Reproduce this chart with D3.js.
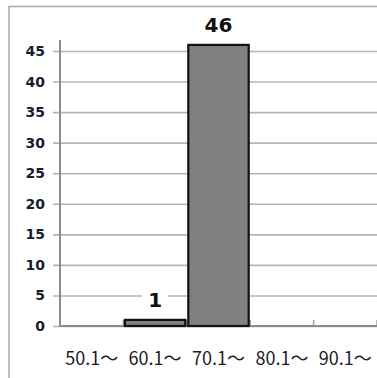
<!DOCTYPE html>
<html>
<head>
<meta charset="utf-8">
<script src="https://cdn.jsdelivr.net/npm/d3@7"></script>
<style>
  html, body { margin: 0; padding: 0; background: #fff; }
  svg { display: block; }
</style>
</head>
<body>
<svg id="chart" width="377" height="378"></svg>
<script>
// Score bands and head counts per band
const categories = ["50.1〜", "60.1〜", "70.1〜", "80.1〜", "90.1〜"];
const counts = [0, 1, 46, 0, 0];
const yTicks = [0, 5, 10, 15, 20, 25, 30, 35, 40, 45];

const svg = d3.select("#chart");
const W = 377, H = 378;
const plotLeft = 60, plotRight = 377, plotTop = 40, plotBottom = 326;

// Frame around the chart area
svg.append("path")
  .attr("d", `M9,${H} L9,6.5 L${W},6.5`)
  .attr("fill", "none")
  .attr("stroke", "#a9a9a9")
  .attr("stroke-width", 1.5);

const x = d3.scaleBand().domain(categories).range([plotLeft, plotRight]).padding(0);
const y = d3.scaleLinear().domain([0, 46.8]).range([plotBottom, plotTop]);

// Horizontal gridlines with outward ticks
const yAxis = d3.axisLeft(y).tickValues(yTicks).tickSize(-(plotRight - 53)).tickSizeOuter(0).tickPadding(8);
const gy = svg.append("g").attr("transform", `translate(53,0)`).call(yAxis);
gy.select(".domain").remove();
gy.selectAll(".tick line")
  .attr("stroke", "#b4b4b4")
  .attr("stroke-width", 1.6);
gy.selectAll(".tick text")
  .attr("font-family", "'DejaVu Sans', Verdana, sans-serif")
  .attr("font-weight", "bold")
  .attr("font-size", 14)
  .attr("fill", "#1b1b2b")
  .attr("x", -8);

// Vertical axis line
svg.append("line")
  .attr("x1", plotLeft).attr("x2", plotLeft)
  .attr("y1", plotTop).attr("y2", plotBottom)
  .attr("stroke", "#8c8c8c").attr("stroke-width", 2);

// Category boundary ticks (inside) on the horizontal axis
const bounds = categories.map(c => x(c)).concat([plotRight]);
svg.selectAll("line.xtick").data(bounds.slice(1)).enter().append("line")
  .attr("class", "xtick")
  .attr("x1", d => d).attr("x2", d => d)
  .attr("y1", plotBottom - 6).attr("y2", plotBottom)
  .attr("stroke", "#a0a0a0").attr("stroke-width", 1.5);

// Horizontal axis line
svg.append("line")
  .attr("x1", plotLeft - 1).attr("x2", plotRight)
  .attr("y1", plotBottom).attr("y2", plotBottom)
  .attr("stroke", "#8c8c8c").attr("stroke-width", 2);

// Bars
const data = categories.map((c, i) => ({ c, v: counts[i] }));
svg.selectAll("rect.bar").data(data.filter(d => d.v > 0)).enter().append("rect")
  .attr("class", "bar")
  .attr("x", d => x(d.c) + 1.5)
  .attr("width", x.bandwidth() - 3)
  .attr("y", d => y(d.v))
  .attr("height", d => y(0) - y(d.v))
  .attr("fill", "#808080")
  .attr("stroke", "#111")
  .attr("stroke-width", 2.2);

// Value labels, each on a white backing
const labels = svg.selectAll("g.lbl").data(data.filter(d => d.v > 0)).enter().append("g")
  .attr("class", "lbl")
  .attr("transform", d => `translate(${x(d.c) + x.bandwidth() / 2},${y(d.v) - 13})`);
labels.append("rect")
  .attr("x", -13).attr("y", -19).attr("width", 26).attr("height", 22)
  .attr("fill", "#fff");
labels.append("text")
  .attr("text-anchor", "middle")
  .attr("font-family", "'DejaVu Sans', Verdana, sans-serif")
  .attr("font-weight", "bold")
  .attr("font-size", 20)
  .attr("fill", "#111")
  .text(d => d.v);

// Category labels
svg.selectAll("text.cat").data(categories).enter().append("text")
  .attr("class", "cat")
  .attr("x", d => x(d) + x.bandwidth() / 2)
  .attr("y", 365)
  .attr("text-anchor", "middle")
  .attr("font-family", "'Noto Sans CJK JP', 'Noto Sans', sans-serif")
  .attr("font-size", 18)
  .attr("fill", "#1b1b2b")
  .text(d => d);
</script>
</body>
</html>
